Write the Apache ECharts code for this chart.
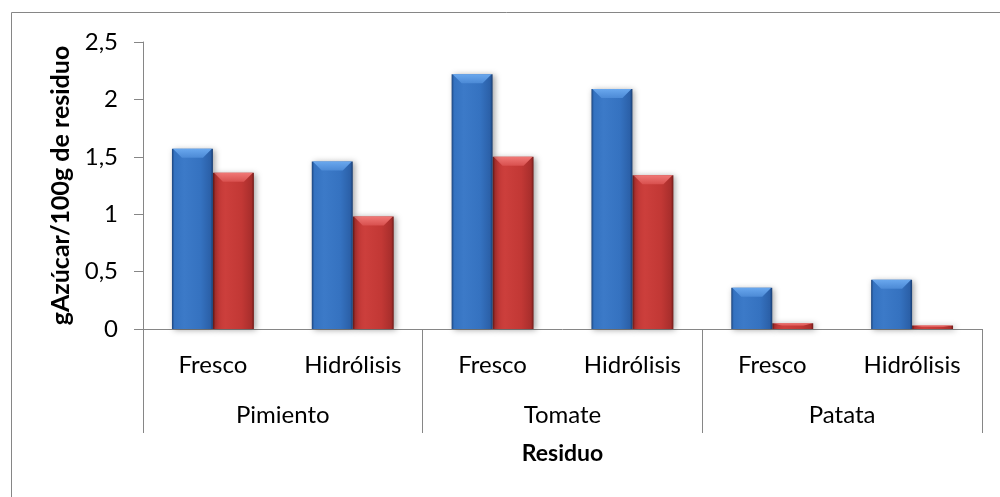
<!DOCTYPE html>
<html>
<head>
<meta charset="utf-8">
<script src="https://cdn.jsdelivr.net/npm/echarts@6/dist/echarts.min.js"></script>
<style>
  html, body { margin: 0; padding: 0; background: #fff; }
  #chart { width: 1000px; height: 497px; }
</style>
</head>
<body>
<div id="chart"></div>
<script>
// Sugar content per 100 g of residue, by residue and treatment
const tratamientos = ['Fresco', 'Hidrólisis', 'Fresco', 'Hidrólisis', 'Fresco', 'Hidrólisis'];
const residuos = ['Pimiento', 'Tomate', 'Patata'];
const serieAzul = [1.57, 1.46, 2.22, 2.09, 0.36, 0.43];
const serieRoja = [1.36, 0.98, 1.50, 1.34, 0.05, 0.03];
const yTicks = [0, 0.5, 1, 1.5, 2, 2.5];

const FONT = 'Lato';
const AXIS_GREY = '#868686';

const palettes = [
  { // blue
    body: ['#1c447c', '#3472c0', '#3c7ac8', '#3572c0', '#2b60a8', '#183c70'],
    bevelTop: '#6aa8ee', bevelBottom: '#4c8ad6'
  },
  { // red
    body: ['#7c1e1c', '#c03634', '#cc3f3c', '#c23835', '#a82e2c', '#701a18'],
    bevelTop: '#f07876', bevelBottom: '#d8504e'
  }
];

// Bevelled bar drawn from the axis scales
function bevelBar(params, api) {
  const cat = api.value(0);
  const val = api.value(1);
  const base = api.coord([cat, 0]);
  const top = api.coord([cat, val]);
  const band = api.size([1, 0])[0];
  const w = band * 0.293;
  const x = params.seriesIndex === 0 ? base[0] - w : base[0];
  const y = top[1];
  const h = base[1] - top[1];
  const p = palettes[params.seriesIndex];
  const b = Math.min(9, h * 0.45);
  const inset = Math.min(10, w / 4);
  const stops = [0, 0.06, 0.3, 0.7, 0.94, 1].map((o, i) => ({ offset: o, color: p.body[i] }));
  return {
    type: 'group',
    children: [
      {
        type: 'rect',
        shape: { x: x, y: y, width: w, height: h },
        style: {
          fill: new echarts.graphic.LinearGradient(0, 0, 1, 0, stops),
          shadowBlur: 6, shadowOffsetX: 2, shadowOffsetY: 1,
          shadowColor: 'rgba(0,0,0,0.35)'
        }
      },
      {
        type: 'polygon',
        shape: { points: [[x + 1, y], [x + w - 1, y], [x + w - inset, y + b], [x + inset, y + b]] },
        style: {
          fill: new echarts.graphic.LinearGradient(0, 0, 0, 1, [
            { offset: 0, color: p.bevelTop }, { offset: 1, color: p.bevelBottom }
          ])
        }
      }
    ]
  };
}

const chart = echarts.init(document.getElementById('chart'), null, { renderer: 'canvas' });

chart.setOption({
  backgroundColor: '#fff',
  animation: false,
  textStyle: { fontFamily: FONT, color: '#000' },
  graphic: [{
    type: 'rect',
    shape: { x: 11.5, y: 12.5, width: 1010, height: 510 },
    style: { fill: 'none', stroke: AXIS_GREY, lineWidth: 1 },
    silent: true
  }],
  grid: { left: 143, right: 18, top: 42, bottom: 168, containLabel: false },
  xAxis: [
    {
      type: 'category',
      data: tratamientos,
      position: 'bottom',
      axisLine: { show: true, lineStyle: { color: AXIS_GREY, width: 1 } },
      axisTick: { show: false },
      axisLabel: { interval: 0, margin: 24, fontSize: 24, fontFamily: FONT, color: '#000' },
      splitLine: { show: false }
    },
    {
      type: 'category',
      data: residuos,
      position: 'bottom',
      axisLine: { show: false },
      axisTick: { show: true, interval: 0, length: 104, lineStyle: { color: AXIS_GREY, width: 1 } },
      axisLabel: { interval: 0, margin: 74, fontSize: 24, fontFamily: FONT, color: '#000' },
      splitLine: { show: false },
      name: 'Residuo',
      nameLocation: 'middle',
      nameGap: 113,
      nameTextStyle: { fontSize: 23, fontWeight: 'bold', fontFamily: FONT, color: '#000' }
    }
  ],
  yAxis: {
    type: 'value',
    min: yTicks[0],
    max: yTicks[yTicks.length - 1],
    interval: 0.5,
    axisLine: { show: true, lineStyle: { color: AXIS_GREY, width: 1 } },
    axisTick: { show: true, inside: false, length: 9, lineStyle: { color: AXIS_GREY } },
    splitLine: { show: false },
    axisLabel: {
      margin: 25, fontSize: 24, fontFamily: FONT, color: '#000',
      formatter: v => String(v).replace('.', ',')
    },
    name: 'gAzúcar/100g de residuo',
    nameLocation: 'middle',
    nameGap: 68,
    nameRotate: 90,
    nameTextStyle: { fontSize: 25, fontWeight: 'bold', fontFamily: FONT, color: '#000' }
  },
  series: [
    {
      type: 'custom',
      name: 'Serie azul',
      xAxisIndex: 0,
      renderItem: bevelBar,
      encode: { x: 0, y: 1 },
      data: serieAzul.map((v, i) => [i, v]),
      z: 3
    },
    {
      type: 'custom',
      name: 'Serie roja',
      xAxisIndex: 0,
      renderItem: bevelBar,
      encode: { x: 0, y: 1 },
      data: serieRoja.map((v, i) => [i, v]),
      z: 2
    }
  ]
});
</script>
</body>
</html>
